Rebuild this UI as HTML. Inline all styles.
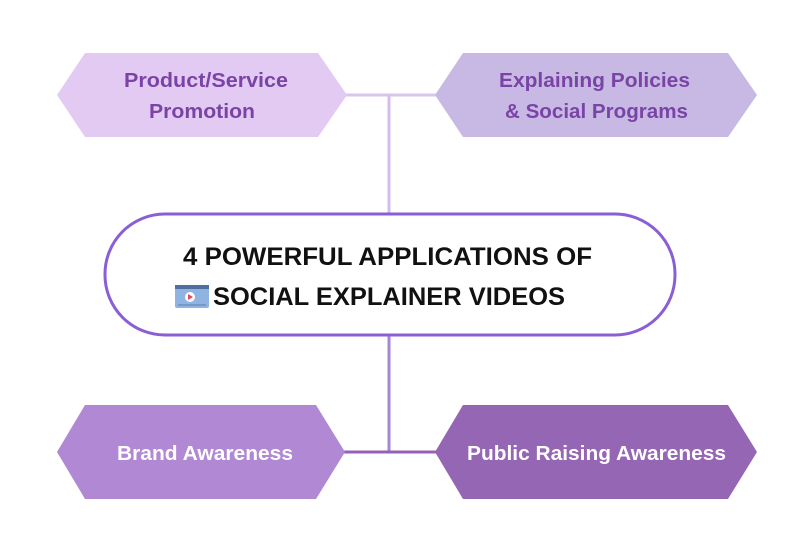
<!DOCTYPE html>
<html><head><meta charset="utf-8"><style>
html,body{margin:0;padding:0;background:#fff;}
svg{display:block;}
text{font-family:"Liberation Sans",sans-serif;font-weight:bold;}
</style></head><body>
<svg width="800" height="553" viewBox="0 0 800 553" xmlns="http://www.w3.org/2000/svg">
<rect width="800" height="553" fill="#fff"/>
<line x1="345" y1="95" x2="437" y2="95" stroke="#d9c6ee" stroke-width="3"/>
<line x1="389" y1="95" x2="389" y2="214" stroke="#d2bdec" stroke-width="3"/>
<line x1="389" y1="335" x2="389" y2="452" stroke="#a985d6" stroke-width="3"/>
<line x1="343" y1="452" x2="437" y2="452" stroke="#9460b8" stroke-width="3"/>
<polygon points="57,95 85,53 318,53 347,95 318,137 85,137" fill="#e2caf2"/>
<polygon points="435,95 463,53 728,53 757,95 728,137 463,137" fill="#c7b9e3"/>
<polygon points="57,452 85,405 316,405 345,452 316,499 85,499" fill="#b088d4"/>
<polygon points="435,452 463,405 728,405 757,452 728,499 463,499" fill="#9566b4"/>
<rect x="105" y="214" width="570" height="121" rx="60" fill="#fff" stroke="#8a5fd6" stroke-width="3"/>
<g fill="#7a44a6" font-size="20">
<text x="124" y="87" textLength="164" lengthAdjust="spacingAndGlyphs">Product/Service</text>
<text x="149" y="118" textLength="106" lengthAdjust="spacingAndGlyphs">Promotion</text>
<text x="499" y="87" textLength="191" lengthAdjust="spacingAndGlyphs">Explaining Policies</text>
<text x="505" y="118" textLength="183" lengthAdjust="spacingAndGlyphs">&amp; Social Programs</text>
</g>
<g fill="#fff" font-size="20">
<text x="117" y="460" textLength="176" lengthAdjust="spacingAndGlyphs">Brand Awareness</text>
<text x="467" y="460" textLength="259" lengthAdjust="spacingAndGlyphs">Public Raising Awareness</text>
</g>
<g fill="#111" font-size="25">
<text x="183" y="265" textLength="409" lengthAdjust="spacingAndGlyphs">4 POWERFUL APPLICATIONS OF</text>
<text x="213" y="305" textLength="352" lengthAdjust="spacingAndGlyphs">SOCIAL EXPLAINER VIDEOS</text>
</g>
<rect x="175" y="285" width="34" height="23" rx="2" fill="#8fb4e2"/>
<rect x="175" y="285" width="34" height="4" fill="#4f6f9e"/>
<circle cx="190" cy="297" r="5" fill="#fff"/>
<polygon points="188,294 188,300 193,297" fill="#e04a6a"/>
<line x1="178" y1="305" x2="206" y2="305" stroke="#5a7fb0" stroke-width="1"/>
</svg>
</body></html>
